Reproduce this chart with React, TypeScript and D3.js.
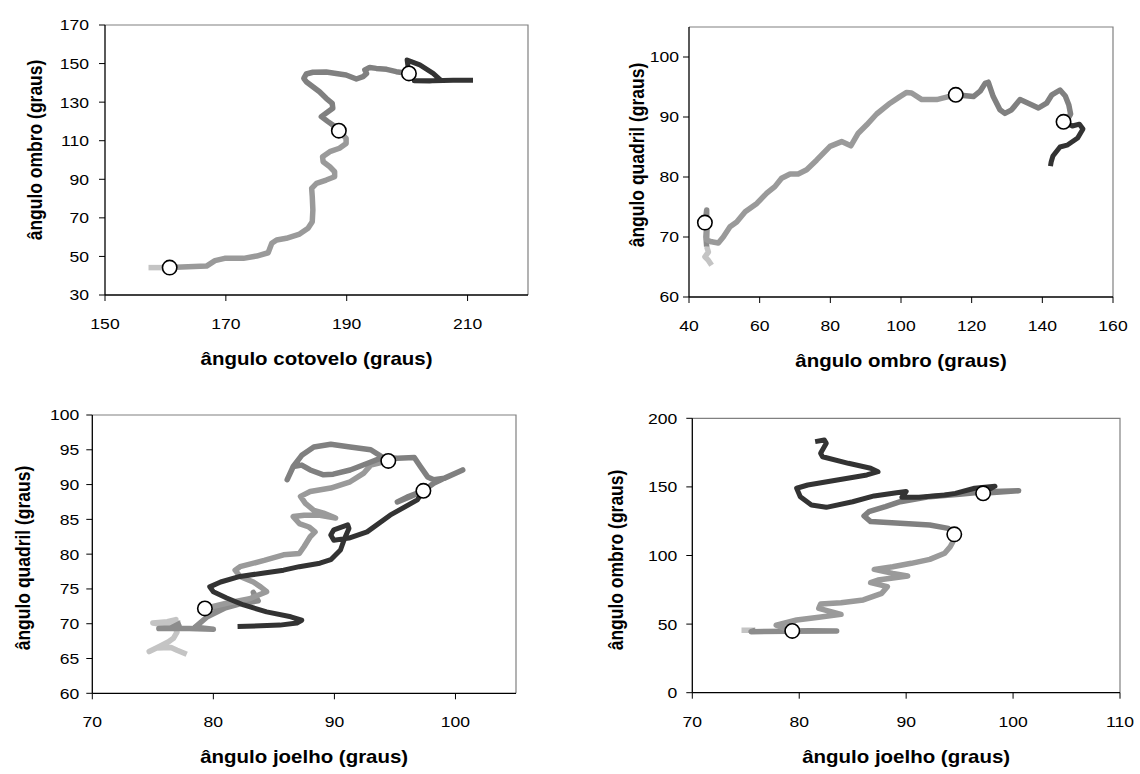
import React from "react";
import * as d3 from "d3";

type Pt = [number, number];

// ---------- Panel 1: ângulo cotovelo (x) vs ângulo ombro (y) ----------
const p1XTicks = [150, 170, 190, 210];
const p1YTicks = [30, 50, 70, 90, 110, 130, 150, 170];
const p1A: Pt[] = [[157.2, 44.2], [160.7, 44.2]];
const p1B: Pt[] = [[160.7, 44.2], [166.8, 45.0], [168.2, 47.8], [169.8, 49.0], [172.9, 49.0], [175.1, 50.2], [177.0, 51.9], [177.6, 56.8], [178.4, 58.5], [180.0, 59.4], [182.2, 61.6], [183.6, 64.6], [184.3, 68.0], [184.4, 74.1], [184.3, 81.0], [184.2, 85.3], [185.0, 87.9], [186.6, 89.6], [188.0, 91.3], [188.0, 93.9], [187.2, 96.5], [186.1, 99.1], [186.0, 101.7], [187.2, 104.3], [188.8, 106.1], [189.9, 108.6], [189.9, 111.2], [188.7, 115.2]];
const p1C: Pt[] = [[188.7, 115.2], [187.7, 118.1], [186.9, 119.9], [185.8, 122.5], [186.9, 125.0], [187.7, 126.8], [187.6, 129.4], [186.6, 132.0], [185.5, 135.4], [184.4, 138.0], [183.3, 140.6], [182.9, 142.3], [183.3, 144.6], [184.4, 145.5], [186.6, 145.6], [189.9, 144.1], [191.6, 142.0], [192.7, 143.2], [193.3, 144.9], [193.0, 146.7], [193.8, 148.0], [194.9, 147.5], [196.6, 147.0], [198.2, 145.8], [200.3, 144.9]];
const p1D: Pt[] = [[200.3, 144.9], [200.0, 151.8], [202.1, 149.3], [204.3, 144.9], [205.5, 141.5], [203.7, 141.0], [201.2, 141.1], [204.3, 141.1], [207.6, 141.3], [210.9, 141.3]];
const p1Markers: Pt[] = [[160.7, 44.2], [188.7, 115.2], [200.3, 144.9]];

// ---------- Panel 2: ângulo ombro (x) vs ângulo quadril (y) ----------
const p2XTicks = [40, 60, 80, 100, 120, 140, 160];
const p2YTicks = [60, 70, 80, 90, 100];
const p2A: Pt[] = [[46.4, 65.3], [45.5, 66.1], [44.5, 66.7], [45.5, 67.5], [45.0, 68.4]];
const p2A2: Pt[] = [[45.0, 68.4], [44.8, 70.0], [45.0, 72.0], [45.0, 74.5], [44.8, 73.5], [44.5, 72.4]];
const p2B: Pt[] = [[44.5, 72.4], [45.2, 72.8], [45.0, 69.5], [46.4, 69.2], [48.3, 69.0], [49.7, 70.0], [51.6, 71.7], [53.5, 72.5], [55.9, 74.2], [59.2, 75.6], [62.0, 77.3], [64.3, 78.4], [66.2, 79.8], [68.6, 80.5], [70.9, 80.5], [73.3, 81.2], [76.1, 82.8], [79.9, 85.1], [83.2, 85.9], [85.8, 85.2], [87.9, 87.3], [90.3, 88.7], [93.1, 90.5], [96.9, 92.3], [99.7, 93.4], [101.6, 94.1], [103.0, 94.0], [105.9, 92.9], [110.1, 92.9], [112.9, 93.3], [115.5, 93.7]];
const p2C: Pt[] = [[115.5, 93.7], [120.5, 93.4], [122.4, 94.3], [123.8, 95.6], [124.7, 95.8], [126.1, 93.4], [128.0, 91.2], [129.4, 90.6], [131.3, 91.2], [133.7, 92.9], [136.0, 92.3], [138.9, 91.5], [141.2, 92.3], [142.7, 93.7], [145.0, 94.5], [146.5, 93.5], [147.5, 92.0], [148.0, 90.5], [147.0, 89.5], [146.0, 89.2]];
const p2D: Pt[] = [[146.0, 89.2], [148.5, 88.5], [150.5, 88.8], [151.5, 88.0], [150.0, 86.5], [147.0, 85.3], [145.0, 85.0], [143.0, 83.5], [142.5, 82.5], [142.3, 81.8]];
const p2Markers: Pt[] = [[44.5, 72.4], [115.5, 93.7], [146.0, 89.2]];

// ---------- Panel 3: ângulo joelho (x) vs ângulo quadril (y) ----------
const p3XTicks = [70, 80, 90, 100];
const p3YTicks = [60, 65, 70, 75, 80, 85, 90, 95, 100];
const p3A: Pt[] = [[77.8, 65.6], [77.0, 66.2], [76.5, 66.6], [75.3, 66.5], [74.7, 66.0], [75.5, 66.7], [76.3, 67.4], [76.7, 67.9], [77.0, 68.8], [76.8, 69.6], [76.9, 70.6], [76.2, 70.3], [75.0, 70.1], [75.8, 69.9], [77.3, 70.1]];
const p3A2: Pt[] = [[77.3, 70.1], [76.5, 69.4], [75.5, 69.3], [78.0, 69.3], [80.0, 69.2], [78.5, 69.5], [79.5, 71.0], [81.0, 72.3], [82.5, 73.0], [83.5, 73.5], [83.3, 74.5], [83.7, 73.3], [82.0, 72.8], [80.5, 72.4], [79.3, 72.2]];
const p3B: Pt[] = [[79.3, 72.2], [81.0, 72.9], [83.0, 73.6], [84.4, 74.6], [83.9, 75.3], [83.3, 76.0], [82.2, 76.8], [81.8, 77.7], [82.2, 78.2], [84.2, 79.1], [85.8, 79.9], [87.1, 80.1], [87.5, 81.1], [88.0, 82.5], [88.4, 83.2], [87.9, 83.9], [87.1, 84.4], [86.6, 85.4], [87.5, 85.6], [88.8, 85.6], [90.1, 85.2], [89.1, 85.9], [88.3, 86.3], [87.6, 87.3], [87.2, 88.3], [88.0, 89.0], [89.7, 89.5], [91.3, 90.4], [92.4, 91.6], [93.0, 92.8], [94.45, 93.4]];
const p3C: Pt[] = [[94.45, 93.4], [93.0, 95.0], [91.3, 95.4], [89.7, 95.8], [88.3, 95.4], [87.3, 94.2], [86.6, 92.6], [86.1, 90.7], [86.6, 92.6], [87.3, 92.8], [88.0, 92.1], [89.1, 91.4], [89.9, 91.5], [91.3, 92.1], [92.8, 93.1], [94.0, 93.9], [95.2, 93.8], [96.6, 93.9], [97.1, 92.6], [97.7, 91.1], [98.2, 90.7], [99.1, 90.9], [100.6, 92.1], [99.2, 91.0], [98.2, 90.2], [97.35, 89.1], [96.0, 88.2], [95.2, 87.5], [96.3, 88.3], [97.35, 89.1]];
const p3D: Pt[] = [[97.35, 89.1], [96.85, 87.8], [94.6, 85.6], [92.7, 83.2], [91.2, 82.3], [89.95, 82.0], [89.7, 82.75], [89.95, 83.5], [91.1, 84.2], [91.2, 83.7], [90.85, 82.3], [90.5, 80.6], [89.7, 79.2], [88.8, 78.7], [87.1, 78.2], [85.8, 77.7], [84.2, 77.3], [82.2, 76.8], [80.6, 76.0], [79.7, 75.3], [80.0, 74.6], [81.1, 73.7], [82.5, 72.7], [84.4, 71.7], [86.4, 71.0], [87.3, 70.5], [86.9, 70.1], [85.5, 69.8], [83.9, 69.7], [82.0, 69.6]];
const p3Markers: Pt[] = [[79.3, 72.2], [94.45, 93.4], [97.35, 89.1]];

// ---------- Panel 4: ângulo joelho (x) vs ângulo ombro (y) ----------
const p4XTicks = [70, 80, 90, 100, 110];
const p4YTicks = [0, 50, 100, 150, 200];
const p4A: Pt[] = [[74.6, 45.5], [75.9, 45.5]];
const p4A2: Pt[] = [[75.9, 45.5], [75.5, 44.5], [79.0, 44.8], [83.5, 45.0], [81.0, 45.2], [79.3, 45.0]];
const p4B: Pt[] = [[79.3, 45.0], [77.85, 49.3], [79.76, 53.0], [81.83, 55.0], [83.91, 57.1], [81.83, 61.5], [82.0, 64.7], [83.91, 65.6], [85.99, 67.6], [87.72, 72.4], [88.24, 77.3], [86.68, 80.2], [87.37, 82.1], [90.14, 85.1], [88.75, 87.0], [87.02, 89.9], [88.75, 91.8], [90.48, 94.3], [92.21, 97.2], [93.6, 101.6], [94.12, 106.4], [94.46, 111.3], [94.46, 115.4]];
const p4C: Pt[] = [[94.46, 115.4], [93.94, 119.8], [92.21, 122.2], [89.45, 123.5], [86.68, 124.7], [86.06, 128.8], [86.51, 131.9], [88.06, 135.6], [89.45, 139.2], [92.21, 142.9], [94.98, 144.6], [97.4, 146.5], [100.52, 147.2], [97.16, 145.3]];
const p4D: Pt[] = [[97.16, 145.3], [98.3, 150.5], [96.4, 149.0], [94.6, 145.3], [93.6, 144.1], [91.2, 142.4], [89.6, 142.4], [90.0, 146.7], [89.1, 145.8], [87.0, 143.4], [85.0, 139.2], [82.53, 135.1], [81.14, 136.8], [80.1, 142.9], [79.76, 149.0], [80.8, 151.4], [83.56, 155.0], [86.33, 158.7], [87.37, 161.1], [86.68, 163.6], [84.6, 167.2], [82.18, 172.0], [82.0, 174.5], [82.53, 181.8], [82.35, 184.2], [81.49, 183.0]];
const p4Markers: Pt[] = [[79.35, 45.0], [94.5, 115.4], [97.2, 145.3]];

const C_LIGHT = "#c4c4c4";
const C_A2 = "#8c8c8c";
const C_B = "#9a9a9a";
const C_C = "#808080";
const C_D = "#333333";

interface Series { pts: Pt[]; color: string; width: number }
interface PanelCfg {
  left: number; right: number; top: number; bottom: number;
  xDomain: [number, number]; yDomain: [number, number];
  xTicks: number[]; yTicks: number[];
  xTitle: string; yTitle: string;
  yTitleX: number; yTitleY: number; yLabelGap: number;
  series: Series[]; markers: Pt[];
}

const FONT = "'Liberation Sans', Arial, sans-serif";
const SX = 1.17;

const mk = (a: Pt[], b: Pt[], c: Pt[], d: Pt[], a2?: Pt[]): Series[] => {
  const s: Series[] = [{ pts: a, color: C_LIGHT, width: 5.5 }];
  if (a2) s.push({ pts: a2, color: C_A2, width: 5.5 });
  s.push({ pts: b, color: C_B, width: 5.5 });
  s.push({ pts: c, color: C_C, width: 5.5 });
  s.push({ pts: d, color: C_D, width: 5 });
  return s;
};

const panels: PanelCfg[] = [
  { left: 105, right: 528, top: 25, bottom: 295, xDomain: [150, 220], yDomain: [30, 170], xTicks: p1XTicks, yTicks: p1YTicks,
    xTitle: "ângulo cotovelo (graus)", yTitle: "ângulo ombro (graus)", yTitleX: 35, yTitleY: 150, yLabelGap: 16,
    series: mk(p1A, p1B, p1C, p1D), markers: p1Markers },
  { left: 689, right: 1113, top: 27, bottom: 297, xDomain: [40, 160], yDomain: [60, 105], xTicks: p2XTicks, yTicks: p2YTicks,
    xTitle: "ângulo ombro (graus)", yTitle: "ângulo quadril (graus)", yTitleX: 637, yTitleY: 155, yLabelGap: 10,
    series: mk(p2A, p2B, p2C, p2D, p2A2), markers: p2Markers },
  { left: 92.3, right: 516, top: 415, bottom: 693.3, xDomain: [70, 105], yDomain: [60, 100], xTicks: p3XTicks, yTicks: p3YTicks,
    xTitle: "ângulo joelho (graus)", yTitle: "ângulo quadril (graus)", yTitleX: 23, yTitleY: 558, yLabelGap: 13,
    series: mk(p3A, p3B, p3C, p3D, p3A2), markers: p3Markers },
  { left: 692.3, right: 1120, top: 418.3, bottom: 692.7, xDomain: [70, 110], yDomain: [0, 200], xTicks: p4XTicks, yTicks: p4YTicks,
    xTitle: "ângulo joelho (graus)", yTitle: "ângulo ombro (graus)", yTitleX: 616, yTitleY: 560, yLabelGap: 15,
    series: mk(p4A, p4B, p4C, p4D, p4A2), markers: p4Markers },
];

function Panel({ cfg }: { cfg: PanelCfg }) {
  const x = d3.scaleLinear().domain(cfg.xDomain).range([cfg.left, cfg.right]);
  const y = d3.scaleLinear().domain(cfg.yDomain).range([cfg.bottom, cfg.top]);
  const line = d3.line<Pt>().x((d) => x(d[0])).y((d) => y(d[1]));
  const cx = (cfg.left + cfg.right) / 2;
  return (
    <g>
      <clipPath id={`clip${cfg.left}`}>
        <rect x={cfg.left} y={cfg.top} width={cfg.right - cfg.left} height={cfg.bottom - cfg.top} />
      </clipPath>
      <path d={`M${cfg.left},${cfg.top}H${cfg.right}V${cfg.bottom}`} fill="none" stroke="#808080" strokeWidth={1.2} />
      <g clipPath={`url(#clip${cfg.left})`}>
        {cfg.series.map((s, i) => (
          <path key={i} d={line(s.pts) || ""} fill="none" stroke={s.color} strokeWidth={s.width}
            strokeLinejoin="round" strokeLinecap="butt" />
        ))}
      </g>
      {cfg.markers.map((m, i) => (
        <circle key={i} cx={x(m[0])} cy={y(m[1])} r={7.2} fill="#fff" stroke="#000" strokeWidth={1.6} />
      ))}
      <line x1={cfg.left} x2={cfg.left} y1={cfg.top} y2={cfg.bottom} stroke="#000" strokeWidth={1.3} />
      <line x1={cfg.left} x2={cfg.right} y1={cfg.bottom} y2={cfg.bottom} stroke="#000" strokeWidth={1.3} />
      {cfg.yTicks.map((t) => (
        <g key={`y${t}`}>
          <line x1={cfg.left - 6} x2={cfg.left} y1={y(t)} y2={y(t)} stroke="#000" strokeWidth={1} />
          <g transform={`translate(${cfg.left - cfg.yLabelGap},${y(t) + 5.4}) scale(${SX},1)`}>
            <text textAnchor="end" fontFamily={FONT} fontSize={15} fill="#000">{t}</text>
          </g>
        </g>
      ))}
      {cfg.xTicks.map((t) => (
        <g key={`x${t}`}>
          <line x1={x(t)} x2={x(t)} y1={cfg.bottom} y2={cfg.bottom + 6} stroke="#000" strokeWidth={1} />
          <g transform={`translate(${x(t)},${cfg.bottom + 34}) scale(${SX},1)`}>
            <text textAnchor="middle" fontFamily={FONT} fontSize={15} fill="#000">{t}</text>
          </g>
        </g>
      ))}
      <g transform={`translate(${cx},${cfg.bottom + 70}) scale(${SX},1)`}>
        <text textAnchor="middle" fontFamily={FONT} fontSize={17.5} fontWeight="bold" fill="#000">{cfg.xTitle}</text>
      </g>
      <g transform={`translate(${cfg.yTitleX},${cfg.yTitleY}) scale(${SX},1) rotate(-90)`}>
        <text textAnchor="middle" dominantBaseline="central" fontFamily={FONT} fontSize={17.5} fontWeight="bold" fill="#000">{cfg.yTitle}</text>
      </g>
    </g>
  );
}

export default function App() {
  return (
    <svg width={1140} height={774} viewBox="0 0 1140 774"
      style={{ position: "absolute", left: 0, top: 0, background: "#fff" }}>
      <rect width={1140} height={774} fill="#fff" />
      {panels.map((p, i) => <Panel key={i} cfg={p} />)}
    </svg>
  );
}
